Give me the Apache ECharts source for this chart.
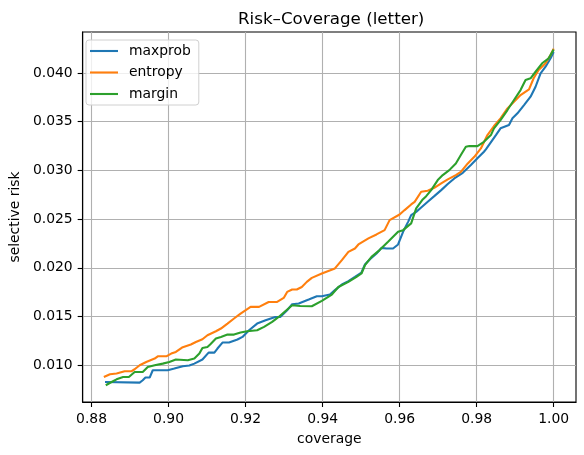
<!DOCTYPE html>
<html>
<head>
<meta charset="utf-8">
<script src="https://cdn.jsdelivr.net/npm/echarts@6/dist/echarts.min.js"></script>
<style>
  html, body { margin: 0; padding: 0; background: #fff; }
  #chart { width: 584px; height: 455px; }
</style>
</head>
<body>
<div id="chart"></div>
<script>
// values
let maxprobCov = [0.8835, 0.8925, 0.8933, 0.8940, 0.8951, 0.8959, 0.8998, 0.9015, 0.9037, 0.9054, 0.9067, 0.9088,
    0.9104, 0.9119, 0.9127, 0.9140, 0.9157, 0.9179, 0.9192, 0.9209, 0.9230, 0.9252, 0.9277, 0.9290, 0.9308,
    0.9321, 0.9338, 0.9364, 0.9385, 0.9398, 0.9419, 0.9432, 0.9450, 0.9467, 0.9484, 0.9501, 0.9510, 0.9523,
    0.9540, 0.9553, 0.9566, 0.9583, 0.9596, 0.9609, 0.9622, 0.9630, 0.9643, 0.9656, 0.9673, 0.9690, 0.9708,
    0.9725, 0.9742, 0.9764, 0.9785, 0.9802, 0.9819, 0.9824, 0.9850, 0.9862, 0.9884, 0.9893, 0.9906, 0.9923,
    0.9940, 0.9953, 0.9966, 0.9979, 0.9992, 1.0000];
let maxprobRisk = [0.00828, 0.00822, 0.00846, 0.00874, 0.00874, 0.00949, 0.00949, 0.00966, 0.00990, 0.00997, 0.01017, 0.01059,
    0.01130, 0.01130, 0.01172, 0.01233, 0.01233, 0.01264, 0.01291, 0.01360, 0.01428, 0.01462, 0.01496, 0.01496, 0.01565,
    0.01627, 0.01634, 0.01675, 0.01709, 0.01709, 0.01726, 0.01771, 0.01829, 0.01863, 0.01907, 0.01952, 0.02035, 0.02089,
    0.02148, 0.02205, 0.02199, 0.02199, 0.02240, 0.02370, 0.02472, 0.02541, 0.02575, 0.02620, 0.02678, 0.02736, 0.02798,
    0.02860, 0.02918, 0.02976, 0.03055, 0.03124, 0.03192, 0.03216, 0.03363, 0.03432, 0.03466, 0.03535, 0.03586, 0.03671,
    0.03757, 0.03859, 0.03997, 0.04065, 0.04151, 0.04215];

let entropyCov = [0.8832, 0.8848, 0.8865, 0.8886, 0.8903, 0.8912, 0.8925, 0.8942, 0.8964, 0.8972, 0.8994, 0.9007,
    0.9019, 0.9035, 0.9058, 0.9071, 0.9088, 0.9101, 0.9106, 0.9123, 0.9136, 0.9153, 0.9170, 0.9187, 0.9213,
    0.9235, 0.9260, 0.9282, 0.9299, 0.9308, 0.9321, 0.9333, 0.9346, 0.9359, 0.9372, 0.9398, 0.9432, 0.9450,
    0.9467, 0.9484, 0.9493, 0.9519, 0.9540, 0.9561, 0.9574, 0.9600, 0.9613, 0.9630, 0.9639, 0.9656, 0.9673,
    0.9690, 0.9708, 0.9725, 0.9746, 0.9759, 0.9777, 0.9794, 0.9811, 0.9828, 0.9845, 0.9862, 0.9880, 0.9897,
    0.9914, 0.9936, 0.9948, 0.9961, 0.9979, 0.9992, 1.0000];
let entropyRisk = [0.00880, 0.00908, 0.00915, 0.00938, 0.00938, 0.00959, 0.01000, 0.01034, 0.01069, 0.01092, 0.01092, 0.01120,
    0.01137, 0.01182, 0.01213, 0.01239, 0.01267, 0.01308, 0.01326, 0.01349, 0.01377, 0.01428, 0.01480, 0.01531, 0.01599,
    0.01599, 0.01650, 0.01650, 0.01691, 0.01753, 0.01778, 0.01778, 0.01804, 0.01856, 0.01897, 0.01942, 0.01994, 0.02079,
    0.02164, 0.02199, 0.02240, 0.02302, 0.02343, 0.02387, 0.02490, 0.02548, 0.02593, 0.02651, 0.02678, 0.02781, 0.02791,
    0.02822, 0.02867, 0.02908, 0.02952, 0.02986, 0.03072, 0.03140, 0.03226, 0.03363, 0.03456, 0.03535, 0.03637, 0.03705,
    0.03774, 0.03833, 0.03946, 0.04031, 0.04100, 0.04185, 0.04250];

let marginCov = [0.8837, 0.8852, 0.8865, 0.8882, 0.8897, 0.8912, 0.8933, 0.8946, 0.8964, 0.8985, 0.9002, 0.9019,
    0.9050, 0.9067, 0.9080, 0.9088, 0.9101, 0.9108, 0.9123, 0.9136, 0.9153, 0.9170, 0.9187, 0.9204, 0.9230,
    0.9248, 0.9269, 0.9286, 0.9303, 0.9321, 0.9342, 0.9372, 0.9398, 0.9424, 0.9441, 0.9467, 0.9488, 0.9501,
    0.9510, 0.9527, 0.9548, 0.9570, 0.9596, 0.9609, 0.9630, 0.9643, 0.9660, 0.9669, 0.9682, 0.9699, 0.9712,
    0.9729, 0.9746, 0.9759, 0.9772, 0.9781, 0.9802, 0.9819, 0.9837, 0.9845, 0.9862, 0.9880, 0.9897, 0.9914,
    0.9927, 0.9940, 0.9953, 0.9970, 0.9987, 1.0000];
let marginRisk = [0.00795, 0.00828, 0.00856, 0.00880, 0.00880, 0.00931, 0.00931, 0.00983, 0.01000, 0.01017, 0.01034, 0.01059,
    0.01051, 0.01069, 0.01120, 0.01178, 0.01188, 0.01213, 0.01274, 0.01291, 0.01315, 0.01315, 0.01336, 0.01349, 0.01360,
    0.01394, 0.01445, 0.01496, 0.01555, 0.01616, 0.01609, 0.01606, 0.01661, 0.01726, 0.01804, 0.01856, 0.01907, 0.01942,
    0.02027, 0.02113, 0.02182, 0.02267, 0.02370, 0.02387, 0.02456, 0.02610, 0.02702, 0.02736, 0.02798, 0.02901, 0.02952,
    0.03003, 0.03072, 0.03158, 0.03243, 0.03250, 0.03250, 0.03294, 0.03363, 0.03432, 0.03517, 0.03620, 0.03723, 0.03825,
    0.03928, 0.03946, 0.04013, 0.04100, 0.04151, 0.04240];

let xTicks = [0.88, 0.90, 0.92, 0.94, 0.96, 0.98, 1.00];
let yTicks = [0.010, 0.015, 0.020, 0.025, 0.030, 0.035, 0.040];

function pairs(xs, ys) {
    return xs.map((x, i) => [x, ys[i]]);
}

let font = 'DejaVu Sans';

let option = {
    animation: false,
    backgroundColor: '#fff',
    textStyle: { fontFamily: font },
    title: {
        text: 'Risk–Coverage (letter)',
        left: 233,
        top: 6,
        textStyle: { fontFamily: font, fontSize: 16.7, fontWeight: 'normal', color: '#000' }
    },
    legend: {
        orient: 'vertical',
        left: 86,
        top: 40,
        padding: [4, 8, 4, 4],
        itemGap: 7.5,
        icon: 'rect',
        itemWidth: 28,
        itemHeight: 2.1,
        backgroundColor: 'rgba(255,255,255,0.8)',
        borderColor: '#d0d0d0',
        borderWidth: 1,
        borderRadius: 3,
        textStyle: { fontFamily: font, fontSize: 13.9, color: '#000', padding: [0, 0, 0, 6], lineHeight: 14 },
        data: ['maxprob', 'entropy', 'margin']
    },
    grid: {
        left: 79,
        right: 8,
        top: 32,
        bottom: 53,
        show: true,
        borderColor: '#000',
        borderWidth: 1.1
    },
    xAxis: {
        type: 'value',
        min: 0.8777,
        max: 1.0058,
        name: 'coverage',
        nameLocation: 'middle',
        nameGap: 30,
        nameTextStyle: { fontFamily: font, fontSize: 13.9, color: '#000' },
        axisLine: { show: true, lineStyle: { color: '#000', width: 1.1 } },
        axisTick: { show: true, length: 5, lineStyle: { color: '#000', width: 1.1 }, customValues: xTicks },
        axisLabel: {
            customValues: xTicks,
            margin: 10,
            fontFamily: font, fontSize: 13.9, color: '#000',
            formatter: v => v.toFixed(2)
        },
        splitLine: { show: true, lineStyle: { color: '#b0b0b0', width: 1.1 } }
    },
    yAxis: {
        type: 'value',
        min: 0.00623,
        max: 0.04421,
        name: 'selective risk',
        nameLocation: 'middle',
        nameGap: 56,
        nameTextStyle: { fontFamily: font, fontSize: 13.9, color: '#000' },
        axisLine: { show: true, lineStyle: { color: '#000', width: 1.1 } },
        axisTick: { show: true, length: 5, lineStyle: { color: '#000', width: 1.1 }, customValues: yTicks },
        axisLabel: {
            customValues: yTicks,
            margin: 10,
            fontFamily: font, fontSize: 13.9, color: '#000',
            formatter: v => v.toFixed(3)
        },
        splitLine: { show: true, lineStyle: { color: '#b0b0b0', width: 1.1 } }
    },
    series: [
        {
            name: 'maxprob',
            type: 'line',
            symbol: 'none',
            color: '#1f77b4',
            lineStyle: { width: 2.1 },
            data: pairs(maxprobCov, maxprobRisk)
        },
        {
            name: 'entropy',
            type: 'line',
            symbol: 'none',
            color: '#ff7f0e',
            lineStyle: { width: 2.1 },
            data: pairs(entropyCov, entropyRisk)
        },
        {
            name: 'margin',
            type: 'line',
            symbol: 'none',
            color: '#2ca02c',
            lineStyle: { width: 2.1 },
            data: pairs(marginCov, marginRisk)
        }
    ]
};

let chart = echarts.init(document.getElementById('chart'));
chart.setOption(option);
</script>
</body>
</html>
